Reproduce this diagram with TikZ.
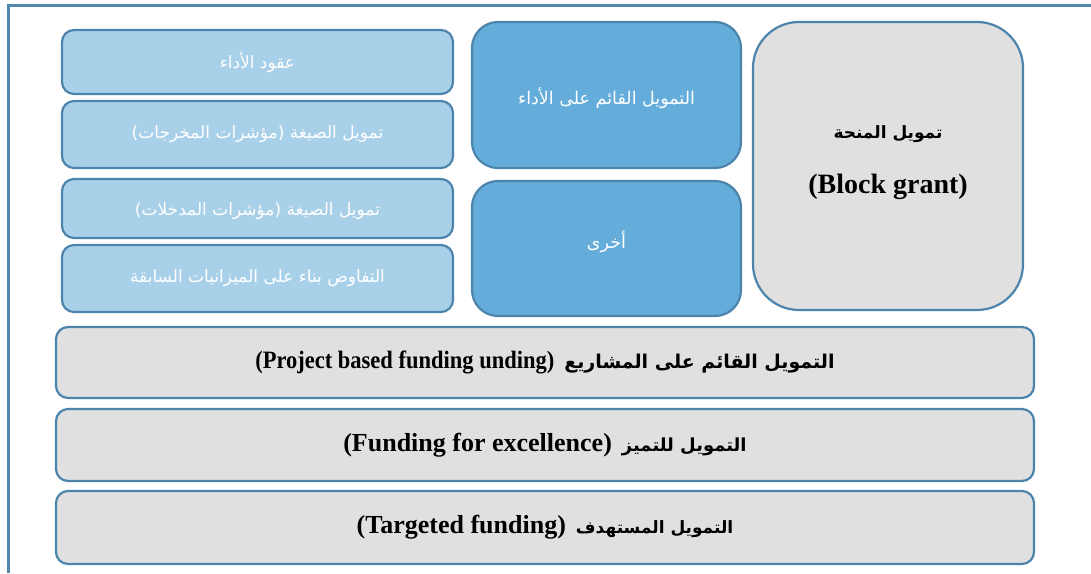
\documentclass[tikz,border=0pt]{standalone}
\usepackage{fontspec}
\setmainfont{Liberation Serif}
\newfontfamily\arabicfont[Script=Arabic]{DejaVu Sans}
\newfontfamily\latbold[FakeStretch=0.9]{Liberation Serif}
\TeXXeTstate=1

\definecolor{frameblue}{HTML}{5088B0}
\definecolor{edgeblue}{HTML}{4C84AC}
\definecolor{lightfill}{HTML}{A9D0E9}
\definecolor{midfill}{HTML}{64ADDA}
\definecolor{greyfill}{HTML}{E0E0E0}

% right-to-left text helper
\newcommand{\rtltext}[1]{\beginR #1\endR}
% fonts for the wide rows: bold Arabic of a given size, bold Latin
\newcommand{\rowarfont}[1]{\arabicfont\bfseries\fontsize{#1}{22}\selectfont}
\newcommand{\rowlat}[1]{{\latbold\bfseries\fontsize{25}{29}\selectfont #1}}
\newcommand{\rowlatwide}[1]{{\bfseries\fontsize{26}{30}\selectfont #1}}

\tikzset{
  box/.style={draw=edgeblue, line width=2.2pt, align=center, inner sep=0pt},
  lightbox/.style={box, fill=lightfill, rounded corners=12pt, text=white,
    minimum width=391pt, font=\arabicfont\fontsize{17}{20}\selectfont},
  midbox/.style={box, fill=midfill, rounded corners=26pt, text=white,
    minimum width=269pt, font=\arabicfont\fontsize{17.5}{21}\selectfont},
  greybox/.style={box, fill=greyfill, text=black},
  wide/.style={greybox, rounded corners=12pt, minimum width=978pt},
}

\begin{document}
\begin{tikzpicture}[x=1pt, y=-1pt]
  \useasboundingbox (0,0) rectangle (1091,573);
  % outer frame (open to the right and bottom)
  \draw[frameblue, line width=2.4pt] (8.5,573) -- (8.5,5.5) -- (1091,5.5);

  % formula and contract column
  \node[lightbox, minimum height=64pt] (contracts) at (257.5,62)
    {\rtltext{عقود الأداء}};
  \node[lightbox, minimum height=67pt] (outputs) at (257.5,134.5)
    {\rtltext{تمويل الصيغة (مؤشرات المخرجات)}};
  \node[lightbox, minimum height=59pt] (inputs) at (257.5,208.5)
    {\raisebox{-3pt}[\height][\depth]{\rtltext{تمويل الصيغة (مؤشرات المدخلات)}}};
  \node[lightbox, minimum height=67pt] (negotiated) at (257.5,278.5)
    {\rtltext{التفاوض بناء على الميزانيات السابقة}};

  % performance and other
  \node[midbox, minimum height=146pt] (performance) at (606.5,95)
    {\raisebox{-3pt}[\height][\depth]{\rtltext{التمويل القائم على الأداء}}};
  \node[midbox, minimum height=135pt] (other) at (606.5,248.5)
    {\raisebox{7pt}[\height][\depth]{\rtltext{أخرى}}};

  % block grant
  \node[greybox, rounded corners=46pt, minimum width=270pt, minimum height=288pt] (block) at (888,166) {};
  \node[font=\arabicfont\bfseries\fontsize{17}{20}\selectfont] (blockar) at (block.center |- 0,134)
    {\rtltext{تمويل المنحة}};
  \node[font=\bfseries\fontsize{28}{32}\selectfont] (blocklat) at (block.center |- 0,187)
    {(Block grant)};

  % wide rows: Latin part on the left, Arabic part on the right
  \node[wide, minimum height=71pt] (project) at (545,362.5)
    {\rowlat{(Project based funding unding)}\hspace{10pt}{\rowarfont{19}\rtltext{التمويل القائم على المشاريع}}};
  \node[wide, minimum height=72pt] (excellence) at (545,445)
    {\rowlatwide{(Funding for excellence)}\hspace{10pt}{\rowarfont{18}\rtltext{التمويل للتميز}}};
  \node[wide, minimum height=73pt] (targeted) at (545,527.5)
    {\rowlatwide{(Targeted funding)}\hspace{10pt}{\rowarfont{17}\rtltext{التمويل المستهدف}}};
\end{tikzpicture}
\end{document}
